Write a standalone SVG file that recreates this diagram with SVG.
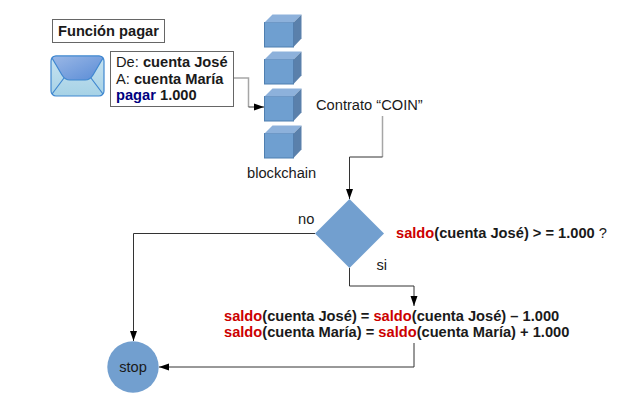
<svg xmlns="http://www.w3.org/2000/svg" width="639" height="405" viewBox="0 0 639 405">
<defs>
<style>
text{font-family:"Liberation Sans",Arial,sans-serif;font-size:14.67px;fill:#1a1a1a}
.b{font-weight:bold}
.r{fill:#cc0000;font-weight:bold}
.n{fill:#000080;font-weight:bold}
.box{fill:#fff;stroke:#666;stroke-width:1}
.c{fill:none;stroke:#333;stroke-width:1}
.g{fill:none;stroke:#a6a6a6;stroke-width:1.5}
.f{fill:#729fcf}
</style>
<marker id="a" markerUnits="userSpaceOnUse" markerWidth="11" markerHeight="8" refX="10" refY="4" orient="auto"><path d="M0 0.500L10 4L0 7.500Z" fill="#000"/></marker>
<linearGradient id="e1" x1="0" y1="0" x2="0" y2="1"><stop offset="0" stop-color="#c8e3f0"/><stop offset="1" stop-color="#a6d2e6"/></linearGradient>
<linearGradient id="e2" x1="0" y1="0" x2="1" y2="1"><stop offset="0" stop-color="#9bb8e6"/><stop offset="1" stop-color="#5a8cd6"/></linearGradient>
<g id="cube">
<rect x="0" y="8" width="29" height="24.500" fill="#6f9fd0" stroke="#4f7fb0" stroke-width="1"/>
<path d="M0 8L8 0H37L29 8Z" fill="#8db1db"/>
<path d="M29 8L37 0V24L29 32.500Z" fill="#5a80ab"/>
</g>
</defs>
<g id="connectors">
<path class="g" d="M233 78H248.500V107"/>
<path class="c" d="M248.500 107H264" marker-end="url(#a)"/>
<path class="g" d="M382.500 116V157"/>
<path class="c" d="M382.500 157H349.500V199" marker-end="url(#a)"/>
<path class="c" d="M349.500 268V286H414V306" marker-end="url(#a)"/>
<path class="c" d="M315 233.500H133.500V341" marker-end="url(#a)"/>
<path class="c" d="M414 343V367H159" marker-end="url(#a)"/>
</g>
<g id="funcion-pagar"><rect class="box" x="52.500" y="19.500" width="112" height="23"/><text class="b" x="58" y="36">Función pagar</text></g>
<g id="envelope">
<rect x="51" y="56" width="53" height="40" rx="5" fill="url(#e1)" stroke="#3f87d0" stroke-width="1.200"/>
<path d="M52 58Q53 56 56 56H99Q102 56 103 58L93 75Q90 80 85 80H70Q65 80 62 75Z" fill="url(#e2)" stroke="#3f87d0" stroke-width="1.200"/>
<path d="M52 94L64 78M103 94L91 78" stroke="#3f87d0" stroke-width="1.200" fill="none"/>
</g>
<g id="message"><rect class="box" x="110.500" y="51.500" width="123" height="55"/>
<text x="116" y="67">De: <tspan class="b">cuenta José</tspan></text>
<text x="116" y="84">A: <tspan class="b">cuenta María</tspan></text>
<text x="116" y="100"><tspan class="n">pagar</tspan><tspan class="b"> 1.000</tspan></text></g>
<g id="block1"><use href="#cube" x="264.500" y="14.500"/></g>
<g id="block2"><use href="#cube" x="264.500" y="51.500"/></g>
<g id="block3"><use href="#cube" x="264.500" y="88.500"/></g>
<g id="block4"><use href="#cube" x="264.500" y="125.500"/></g>
<g id="blockchain-label"><text x="247" y="178">blockchain</text></g>
<g id="contrato"><text x="316" y="110">Contrato “COIN”</text></g>
<g id="decision"><path class="f" d="M349.500 199L384 233.500L349.500 268L315 233.500Z"/>
<text x="298" y="223.500">no</text><text x="376.500" y="270">si</text></g>
<g id="condicion"><text x="396" y="238"><tspan class="r">saldo</tspan><tspan class="b">(cuenta José) &gt; = 1.000</tspan> ?</text></g>
<g id="update">
<text class="b" x="224" y="321"><tspan class="r">saldo</tspan>(cuenta José) = <tspan class="r">saldo</tspan>(cuenta José) – 1.000</text>
<text class="b" x="224" y="337"><tspan class="r">saldo</tspan>(cuenta María) = <tspan class="r">saldo</tspan>(cuenta María) + 1.000</text>
</g>
<g id="stop"><circle class="f" cx="133" cy="367" r="25.700"/><text x="133" y="372" text-anchor="middle">stop</text></g>
</svg>
